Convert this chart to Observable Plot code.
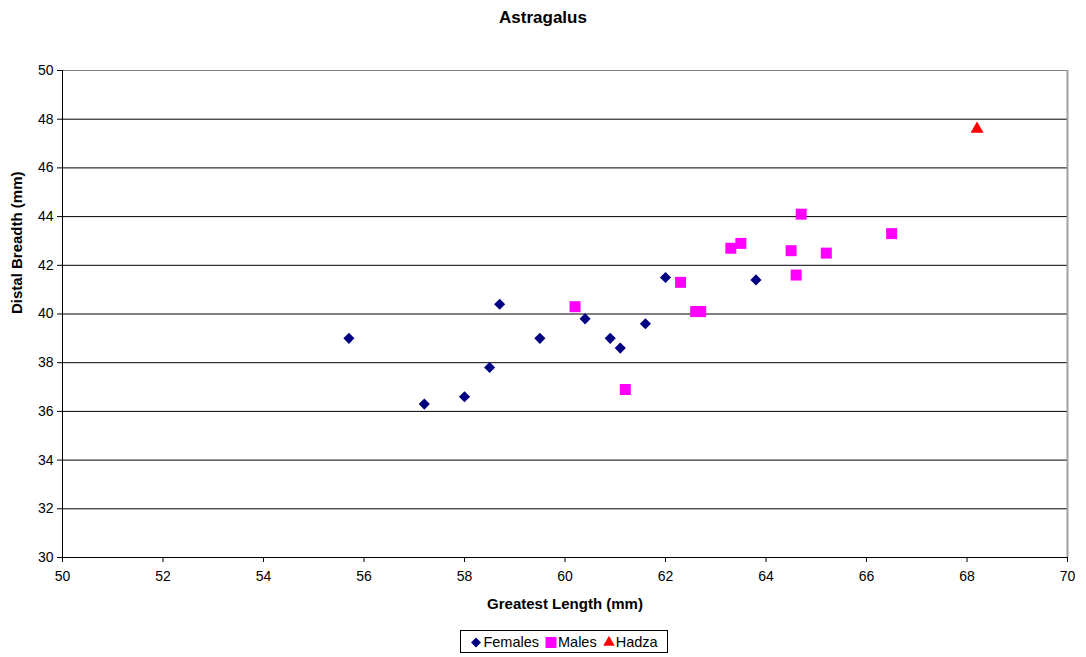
<!DOCTYPE html>
<html>
<head>
<meta charset="utf-8">
<script src="https://cdn.jsdelivr.net/npm/d3@7"></script>
<script src="https://cdn.jsdelivr.net/npm/@observablehq/plot@0.6"></script>
<style>
  html, body { margin: 0; padding: 0; background: #fff; }
  #wrap { position: relative; width: 1086px; height: 657px; font-family: "Liberation Sans", Arial, sans-serif; }
  #title { position: absolute; top: 8px; left: 0; width: 1086px; text-align: center; font-weight: bold; font-size: 17px; }
  #legend { position: absolute; left: 460px; top: 630px; width: 208px; height: 23px; border: 1px solid #000; display: flex; align-items: center; justify-content: center; font-size: 14.5px; gap: 6px; box-sizing: border-box; }
  #legend span.item { display: inline-flex; align-items: center; gap: 1px; }
</style>
</head>
<body>
<div id="wrap">
  <div id="chart"></div>
  <div id="title">Astragalus</div>
  <div id="legend"></div>
</div>
<script>
const femalesX = [55.7, 57.2, 58.0, 58.5, 58.7, 59.5, 60.4, 60.9, 61.1, 61.6, 62.0, 63.8];
const femalesY = [39.0, 36.3, 36.6, 37.8, 40.4, 39.0, 39.8, 39.0, 38.6, 39.6, 41.5, 41.4];
const malesX = [60.2, 61.2, 62.3, 62.6, 62.7, 63.3, 63.5, 64.5, 64.6, 64.7, 65.2, 66.5];
const malesY = [40.3, 36.9, 41.3, 40.1, 40.1, 42.7, 42.9, 42.6, 41.6, 44.1, 42.5, 43.3];
const hadzaX = [68.2];
const hadzaY = [47.6];
const xTicks = [50, 52, 54, 56, 58, 60, 62, 64, 66, 68, 70];
const yTicks = [30, 32, 34, 36, 38, 40, 42, 44, 46, 48, 50];
const seriesNames = ["Females", "Males", "Hadza"];
const seriesColors = ["#000080", "#ff00ff", "#ff0000"];
const seriesSymbols = ["diamond2", "square", "triangle"];
const seriesR = [5.0, 6.2, 4.8];

const toRows = (xs, ys, s) => xs.map((x, i) => ({x, y: ys[i], series: s}));
const females = toRows(femalesX, femalesY, seriesNames[0]);
const males = toRows(malesX, malesY, seriesNames[1]);
const hadza = toRows(hadzaX, hadzaY, seriesNames[2]);
const groups = [females, males, hadza];

const plot = Plot.plot({
  width: 1086,
  height: 657,
  marginTop: 70,
  marginBottom: 100,
  marginLeft: 62,
  marginRight: 19,
  style: {fontFamily: "Liberation Sans, Arial, sans-serif", fontSize: "14px", color: "#000", background: "#fff"},
  x: {domain: [50, 70], ticks: xTicks, label: null},
  y: {domain: [30, 50], ticks: yTicks, label: null},
  marks: [
    Plot.ruleY(yTicks.slice(1, -1), {stroke: "#000", strokeWidth: 1, strokeOpacity: 1}),
    Plot.ruleY([50], {stroke: "#808080", strokeWidth: 1}),
    Plot.ruleX([70], {stroke: "#a0a0a0", strokeWidth: 2}),
    Plot.axisX({ticks: xTicks, tickSize: 5, tickPadding: 9, fontSize: 14, label: null, stroke: "#000"}),
    Plot.axisY({ticks: yTicks, tickSize: 5, tickPadding: 4, fontSize: 14, label: null, stroke: "#000"}),
    Plot.ruleY([30], {stroke: "#000", strokeWidth: 1}),
    Plot.ruleX([50], {stroke: "#000", strokeWidth: 1}),
    ...groups.map((g, i) => Plot.dot(g, {x: "x", y: "y", symbol: () => seriesSymbols[i], r: seriesR[i], fill: seriesColors[i], stroke: "none"})),
    Plot.text(["Greatest Length (mm)"], {frameAnchor: "bottom", dy: 51, fontWeight: "bold", fontSize: 15}),
    Plot.text(["Distal Breadth (mm)"], {frameAnchor: "left", dx: -45, rotate: -90, fontWeight: "bold", fontSize: 15})
  ]
});
document.getElementById("chart").appendChild(plot);

// legend
const leg = d3.select("#legend");
seriesNames.forEach((name, i) => {
  const item = leg.append("span").attr("class", "item");
  const svg = item.append("svg").attr("width", 12).attr("height", 12);
  const sym = i === 0 ? d3.symbolDiamond2 : i === 1 ? d3.symbolSquare : d3.symbolTriangle;
  const size = i === 0 ? 64 : i === 1 ? 121 : 58;
  svg.append("path").attr("transform", "translate(6,6.5)").attr("d", d3.symbol(sym, size)()).attr("fill", seriesColors[i]);
  item.append("span").text(name);
});
</script>
</body>
</html>
